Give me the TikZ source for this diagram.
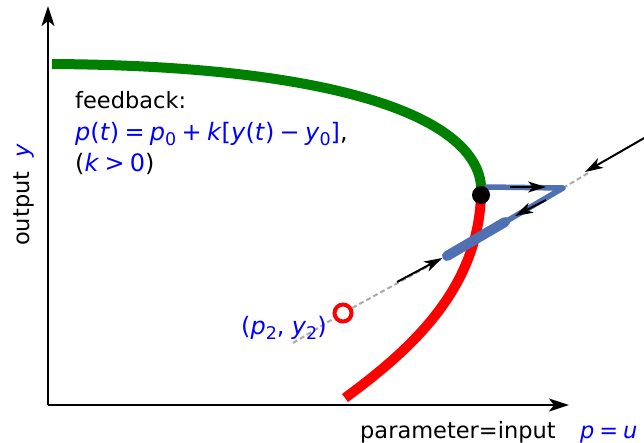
\documentclass[tikz,border=0pt]{standalone}
\usepackage{fontspec}
\setmainfont{DejaVu Sans}
\usetikzlibrary{arrows.meta}
\definecolor{curvegreen}{HTML}{008000}
\definecolor{curvered}{HTML}{FF0000}
\definecolor{pathblue}{HTML}{5070B4}
\definecolor{mathblue}{HTML}{0000FF}
\definecolor{dashgrey}{HTML}{AAAAAA}
\newcommand{\mv}[1]{\textit{#1}}
\newcommand{\sub}[1]{\raisebox{-0.22em}{\fontsize{17.5}{17.5}\selectfont #1}}
\newcommand{\op}[1]{\hspace{0.22em}#1\hspace{0.22em}}

\begin{document}
\begin{tikzpicture}[x=1pt, y=-1pt,
        axis/.style={line width=2pt, -{Stealth[length=20pt, width=13pt, inset=5pt]}},
        branch/.style={line width=10pt},
        walk/.style={pathblue, line width=5.5pt, line cap=round, line join=round},
        guide/.style={dashgrey, line width=2pt, dash pattern=on 5pt off 3pt},
        flow/.style={line width=2pt, -{Stealth[length=18pt, width=11pt, inset=5pt]}},
        dot/.style={circle, fill=black, inner sep=0pt, minimum size=18pt},
        ring/.style={circle, draw=curvered, fill=white, line width=4pt, inner sep=0pt, minimum size=17pt},
        txt/.style={font=\fontsize{22.5}{30}\selectfont, inner sep=0pt, anchor=base west},
        mtxt/.style={txt, font=\fontsize{24}{30}\selectfont}]
      \useasboundingbox (0,0) rectangle (644,442);
      % axes
      \coordinate (O) at (48,405);
      \coordinate (ytop) at (48,6);
      \coordinate (xend) at (569,405);
      \draw[axis] (O) -- (ytop);
      \draw[axis] (O) -- (xend);
      % branches
      \coordinate (g0) at (52,64);
      \coordinate (fold) at (481,195);
      \coordinate (r1) at (345,398);
      \draw[branch, curvegreen] (g0) .. controls (360,66) and (487,125) .. (fold);
      \draw[branch, curvered] (fold) .. controls (478,290) and (410,350) .. (r1);
      % trajectory
      \node[ring] (p2) at (343,313) {};
      \coordinate (b0) at (487,187);
      \coordinate (b1) at (563,188);
      \coordinate (b2) at (447,256);
      \coordinate (b3) at (505,222);
      \coordinate (d0) at (293,343);
      \coordinate (d1) at (590,172);
      \draw[guide] (d0) -- (p2);
      \draw[guide] (p2) -- (b2);
      \draw[guide] (b1) -- (d1);
      \draw[walk] (b0) -- (b1) -- (b2);
      \draw[walk, line width=10pt] (b3) -- (b2);
      \node[dot] (foldpt) at (fold) {};
      % arrows
      \coordinate (in0) at (397,282);
      \coordinate (in1) at (442,258);
      \coordinate (ext0) at (646,137);
      \coordinate (ext1) at (585,172);
      \coordinate (m0) at (510,187);
      \coordinate (m1) at (546,187);
      \coordinate (n0) at (546,200);
      \coordinate (n1) at (515,216);
      \draw[flow] (in0) -- (in1);
      \draw[flow] (ext0) -- (ext1);
      \draw[flow] (m0) -- (m1);
      \draw[flow] (n0) -- (n1);
      % labels
      \node[txt] (fb) at (75,108) {feedback:};
      \node[mtxt, text=mathblue] (law) at (75,140) {\mv{p}(\mv{t})\op{=}\mv{p}\sub{0}\op{+}\mv{k}[\mv{y}(\mv{t})\op{−}\mv{y}\sub{0}]\textcolor{black}{,}};
      \node[mtxt] (gain) at (75,171) {(\textcolor{mathblue}{\mv{k}\op{>}0})};
      \node[mtxt, text=mathblue] (p2lbl) at (241,334) {(\mv{p}\sub{2},\hspace{0.3em}\mv{y}\sub{2})};
      \node[txt, rotate=90] (ylbl) at (29,246) {output\ \ \textcolor{mathblue}{\mv{y}}};
      \node[txt] (xlbl) at (360,438) {parameter=input};
      \node[txt, text=mathblue] (plbl) at (580,438) {\mv{p}\op{=}\mv{u}};
    \end{tikzpicture}
\end{document}
